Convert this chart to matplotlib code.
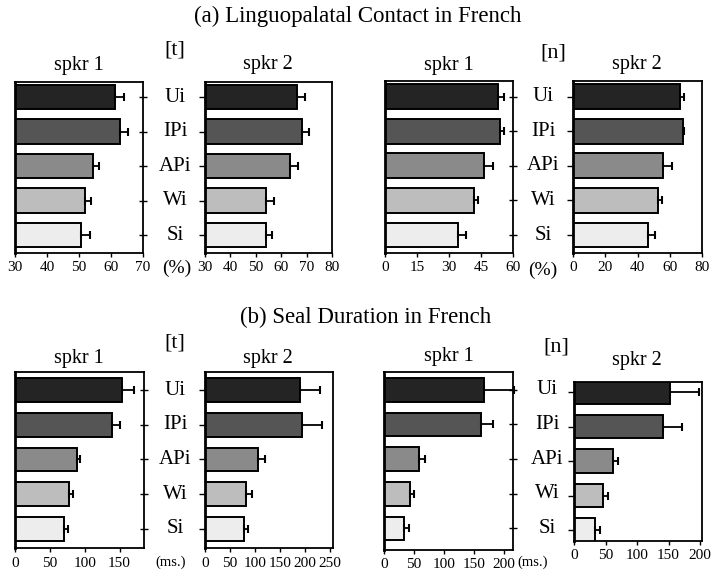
import matplotlib
matplotlib.use("Agg")
import matplotlib.pyplot as plt
import matplotlib.transforms as mtransforms

plt.rcParams['font.family'] = ['Liberation Serif', 'DejaVu Serif']

categories = ["Ui", "IPi", "APi", "Wi", "Si"]
bar_colors = ["#242424", "#555555", "#8a8a8a", "#bdbdbd", "#ededed"]

# (a) Linguopalatal contact (%)
lp_t_s1 = [61.2, 62.8, 54.3, 52.0, 50.5]
lp_t_s1_err = [2.8, 2.4, 1.8, 1.8, 2.8]
lp_t_s2 = [66.2, 68.2, 63.6, 54.1, 54.1]
lp_t_s2_err = [3.3, 2.6, 3.0, 2.9, 2.2]
lp_n_s1 = [53.2, 54.0, 46.2, 41.8, 34.2]
lp_n_s1_err = [2.7, 1.6, 4.4, 1.6, 3.7]
lp_n_s2 = [66.5, 68.0, 56.1, 52.6, 46.8]
lp_n_s2_err = [2.1, 1.0, 5.2, 2.5, 4.1]

# (b) Seal duration (ms)
sd_t_s1 = [153.7, 139.0, 88.3, 77.8, 70.6]
sd_t_s1_err = [17.0, 12.0, 5.4, 4.8, 4.8]
sd_t_s2 = [190.0, 194.5, 105.5, 82.0, 78.5]
sd_t_s2_err = [40.0, 40.0, 13.5, 11.6, 6.8]
sd_n_s1 = [166.4, 162.0, 59.0, 43.6, 33.5]
sd_n_s1_err = [51.0, 20.0, 9.7, 5.6, 8.9]
sd_n_s2 = [152.8, 140.9, 61.3, 45.3, 33.6]
sd_n_s2_err = [45.0, 30.0, 8.0, 8.0, 7.4]

xticks_p = [[30, 40, 50, 60, 70], [30, 40, 50, 60, 70, 80],
            [0, 15, 30, 45, 60], [0, 20, 40, 60, 80],
            [0, 50, 100, 150], [0, 50, 100, 150, 200, 250],
            [0, 50, 100, 150, 200], [0, 50, 100, 150, 200]]
xlims = [(30, 70), (30, 80), (0, 60), (0, 80),
         (0, 185), (0, 256), (0, 215), (0, 203)]
ylims = [(-0.52, 4.45)] * 4 + [(-0.56, 4.53), (-0.56, 4.53),
                               (-0.62, 4.52), (-0.31, 4.30)]

W, H = 714, 574
fig = plt.figure(figsize=(W / 100, H / 100), dpi=100)

def rect(x0, x1, y0, y1):
    return [x0 / W, 1 - y1 / H, (x1 - x0) / W, (y1 - y0) / H]

rects = [rect(15, 143, 81.5, 253), rect(205, 332, 81.5, 253),
         rect(385, 513, 81, 253), rect(573, 702, 81, 253),
         rect(15, 144, 371.7, 548.3), rect(205, 333, 371.7, 548.3),
         rect(384, 513, 371.7, 550), rect(574, 702, 381.7, 540.7)]

data = [(lp_t_s1, lp_t_s1_err), (lp_t_s2, lp_t_s2_err),
        (lp_n_s1, lp_n_s1_err), (lp_n_s2, lp_n_s2_err),
        (sd_t_s1, sd_t_s1_err), (sd_t_s2, sd_t_s2_err),
        (sd_n_s1, sd_n_s1_err), (sd_n_s2, sd_n_s2_err)]

ypos = list(range(len(categories)))[::-1]
axes = []
for i, (r, (vals, errs)) in enumerate(zip(rects, data)):
    ax = fig.add_axes(r)
    lo = xlims[i][0]
    bh = 0.72 if i < 4 else 0.68
    ax.barh(ypos, [v - lo for v in vals], left=lo, height=bh,
            color=bar_colors, edgecolor="black", linewidth=1.4, zorder=2)
    ax.errorbar(vals, ypos, xerr=[[0] * len(errs), errs], fmt="none",
                ecolor="black", elinewidth=1.3, capsize=3, capthick=1.5,
                zorder=3, clip_on=False)
    ax.set_xlim(*xlims[i])
    ax.set_ylim(*ylims[i])
    ax.set_xticks(xticks_p[i])
    ax.tick_params(axis="x", direction="out", length=3, width=1.0,
                   labelsize=11, pad=3)
    ax.set_yticks(ypos)
    ax.set_yticklabels([])
    if i % 2 == 0:
        ax.tick_params(axis="y", left=False, right=True, direction="inout",
                       length=6, width=1.0)
    else:
        ax.tick_params(axis="y", left=True, right=False, direction="out",
                       length=4, width=1.0)
    for s in ax.spines.values():
        s.set_linewidth(1.3)
    ax.spines["left"].set_linewidth(2.0)
    axes.append(ax)

def ftext(x, y, s, size, **kw):
    fig.text(x / W, 1 - y / H, s, fontsize=size, ha="center", va="center", **kw)

ftext(358, 16, "(a) Linguopalatal Contact in French", 16.5)
ftext(366, 317, "(b) Seal Duration in French", 16.5)

# group labels and speaker labels
ftext(175, 50, "[t]", 16)
ftext(553, 53, "[n]", 16)
ftext(175, 343, "[t]", 16)
ftext(556, 347, "[n]", 16)
spk_pos = [(79, 66), (268, 65), (449, 66), (637, 65),
           (79, 358), (268, 359), (449, 357), (637, 361)]
for j, (x, y) in enumerate(spk_pos):
    ftext(x, y, "spkr %d" % (j % 2 + 1), 14.5)

ftext(177, 268, "(%)", 14)
ftext(543, 270, "(%)", 14)
ftext(171, 562, "(ms.)", 10.5)
ftext(533, 562, "(ms.)", 10.5)

# category labels between paired panels
label_x = [175, 543, 175, 547]
for k, axi in enumerate([0, 2, 4, 6]):
    ax = axes[axi]
    tr = mtransforms.blended_transform_factory(fig.transFigure, ax.transData)
    for cat, y in zip(categories, ypos):
        ax.text(label_x[k] / W, y, cat, transform=tr, fontsize=15,
                ha="center", va="center", clip_on=False)

fig.savefig("out.png", dpi=100)
